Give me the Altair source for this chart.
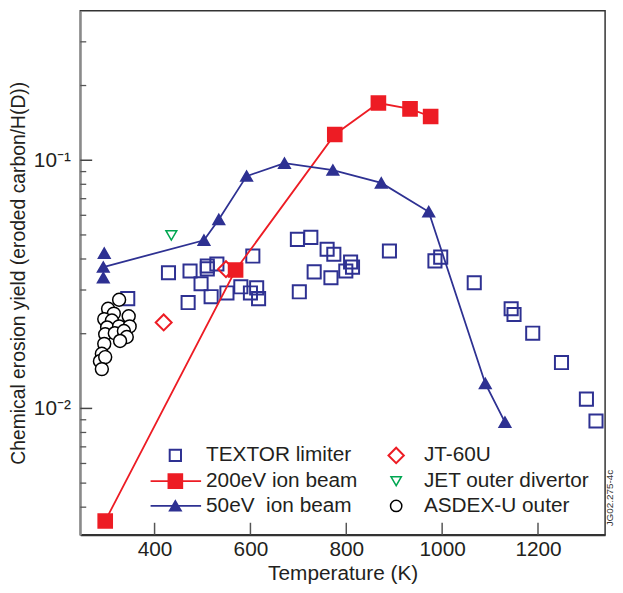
import altair as alt
import pandas as pd

# ---------------- data ----------------
textor_T = [344, 429, 474, 510, 510, 530, 497, 470, 518, 551, 580, 605, 600, 613, 617,
            702, 698, 726, 760, 774, 809, 813, 799, 733, 768, 890, 985, 997,
            1067, 1144, 1150, 1189, 1249, 1301, 1321]
textor_Y = [0.0277, 0.0352, 0.0358, 0.0375, 0.0365, 0.0382, 0.0318, 0.0267, 0.0282, 0.0292,
            0.0309, 0.0411, 0.0292, 0.0306, 0.0277,
            0.0295, 0.048, 0.0489, 0.0438, 0.0418, 0.0389, 0.0371, 0.0358, 0.0355, 0.0336,
            0.0431, 0.0393, 0.0407,
            0.0321, 0.0252, 0.0239, 0.0201, 0.0153, 0.0109, 0.0089]

beam200_T = [297, 569, 776, 867, 933, 976]
beam200_Y = [0.00352, 0.0361, 0.127, 0.170, 0.161, 0.150]

beam50_T = [293, 503, 534, 592, 671, 772, 873, 972, 1090, 1131]
beam50_Y = [0.0371, 0.0476, 0.0577, 0.0863, 0.0973, 0.0912, 0.081, 0.0620, 0.0126, 0.0088]
beam50_extra_T = [295, 293]
beam50_extra_Y = [0.0422, 0.0336]

jt60_T = [549, 419]
jt60_Y = [0.0364, 0.0222]

jet_T = [435]
jet_Y = [0.0498]

asdex_T = [326, 303, 315, 295, 311, 346, 301, 326, 348, 297, 317, 336, 342, 328, 295, 290, 286, 297, 290]
asdex_Y = [0.0274, 0.0252, 0.0241, 0.0229, 0.0226, 0.0235, 0.0212, 0.0214, 0.0214, 0.0199,
           0.0201, 0.0205, 0.0194, 0.0187, 0.0182, 0.0166, 0.0155, 0.0161, 0.0144]

x_major = [400, 600, 800, 1000, 1200]
y_major = [0.01, 0.1]
y_minor = [0.004, 0.005, 0.006, 0.007, 0.008, 0.009,
           0.02, 0.03, 0.04, 0.05, 0.06, 0.07, 0.08, 0.09, 0.2, 0.3]

legend_left = ["TEXTOR limiter", "200eV ion beam", "50eV\u00a0 ion beam"]
legend_right = ["JT-60U", "JET outer divertor", "ASDEX-U outer"]

BLUE = "#2e3192"
RED = "#ed1c24"
GREEN = "#00a651"
FONT = "Liberation Sans"
FS = 21

W, H = 530, 529
xscale = alt.Scale(domain=[245, 1340], zero=False, nice=False)
yscale = alt.Scale(type="log", domain=[0.0031, 0.4], nice=False)

xaxis = alt.Axis(title="Temperature (K)", values=x_major, ticks=False, grid=False,
                 labelPadding=4, titlePadding=3, domainColor="#333", domainWidth=2,
                 format="d")
yaxis = alt.Axis(title="Chemical erosion yield (eroded carbon/H(D))", values=y_major,
                 ticks=False, grid=False, labelPadding=10, titlePadding=5,
                 titleFontSize=19.5,
                 domainColor="#8a8a8a", domainWidth=2,
                 labelExpr="datum.value > 0.05 ? '10\u207b\u00b9' : '10\u207b\u00b2'")


def df(t, y):
    return pd.DataFrame({"T": t, "Y": y})


def enc():
    return dict(
        x=alt.X("T:Q", scale=xscale, axis=xaxis),
        y=alt.Y("Y:Q", scale=yscale, axis=yaxis),
    )


textor = alt.Chart(df(textor_T, textor_Y)).mark_point(
    shape="square", filled=False, stroke=BLUE, strokeWidth=2, size=175, opacity=1
).encode(**enc())

asdex = alt.Chart(df(asdex_T, asdex_Y)).mark_point(
    shape="circle", filled=True, fill="white", stroke="black", strokeWidth=1.5, size=170, opacity=1
).encode(**enc())

jt60 = alt.Chart(df(jt60_T, jt60_Y)).mark_point(
    shape="diamond", filled=False, stroke=RED, strokeWidth=2, size=260, opacity=1
).encode(**enc())

jet = alt.Chart(df(jet_T, jet_Y)).mark_point(
    shape="triangle-down", filled=False, stroke=GREEN, strokeWidth=1.5, size=120, opacity=1
).encode(**enc())

red_line = alt.Chart(df(beam200_T, beam200_Y)).mark_line(color=RED, strokeWidth=1.8).encode(**enc())
red_pts = alt.Chart(df(beam200_T, beam200_Y)).mark_point(
    shape="square", filled=True, fill=RED, stroke=RED, size=190, opacity=1
).encode(**enc())

blue_line = alt.Chart(df(beam50_T, beam50_Y)).mark_line(color=BLUE, strokeWidth=1.8).encode(**enc())
blue_pts = alt.Chart(df(beam50_T + beam50_extra_T, beam50_Y + beam50_extra_Y)).mark_point(
    shape="triangle-up", filled=True, fill=BLUE, stroke=BLUE, size=120, opacity=1
).encode(**enc())

# inward ticks
xt = alt.Chart(pd.DataFrame({"T": x_major})).mark_rule(color="#555", strokeWidth=1.5).encode(
    x=alt.X("T:Q", scale=xscale, axis=xaxis), y=alt.value(H), y2=alt.value(H - 12))
yt_major = alt.Chart(pd.DataFrame({"Y": y_major})).mark_rule(color="#444", strokeWidth=1.5).encode(
    y=alt.Y("Y:Q", scale=yscale, axis=yaxis), x=alt.value(0), x2=alt.value(12))
yt_minor = alt.Chart(pd.DataFrame({"Y": y_minor})).mark_rule(color="#555", strokeWidth=1.3).encode(
    y=alt.Y("Y:Q", scale=yscale, axis=yaxis), x=alt.value(0), x2=alt.value(6))

# legend
leg_layers = []
rows_y = [449, 475, 500]
for i, lab in enumerate(legend_left):
    leg_layers.append(alt.Chart(pd.DataFrame({"label": [lab]})).mark_text(
        align="left", baseline="middle", fontSize=FS, font=FONT, color="#231f20"
    ).encode(x=alt.value(127), y=alt.value(rows_y[i]), text="label:N"))
for i, lab in enumerate(legend_right):
    leg_layers.append(alt.Chart(pd.DataFrame({"label": [lab]})).mark_text(
        align="left", baseline="middle", fontSize=FS, font=FONT, color="#231f20"
    ).encode(x=alt.value(347), y=alt.value(rows_y[i]), text="label:N"))

one = pd.DataFrame({"k": [0]})
leg_layers += [
    alt.Chart(one).mark_point(shape="square", filled=False, stroke=BLUE, strokeWidth=2, size=130, opacity=1)
    .encode(x=alt.value(96), y=alt.value(rows_y[0])),
    alt.Chart(one).mark_rule(color=RED, strokeWidth=1.8)
    .encode(x=alt.value(71), x2=alt.value(122), y=alt.value(rows_y[1])),
    alt.Chart(one).mark_point(shape="square", filled=True, fill=RED, stroke=RED, size=190, opacity=1)
    .encode(x=alt.value(96), y=alt.value(rows_y[1])),
    alt.Chart(one).mark_rule(color=BLUE, strokeWidth=1.8)
    .encode(x=alt.value(71), x2=alt.value(122), y=alt.value(rows_y[2])),
    alt.Chart(one).mark_point(shape="triangle-up", filled=True, fill=BLUE, stroke=BLUE, size=120, opacity=1)
    .encode(x=alt.value(96), y=alt.value(rows_y[2])),
    alt.Chart(one).mark_point(shape="diamond", filled=False, stroke=RED, strokeWidth=2, size=240, opacity=1)
    .encode(x=alt.value(319), y=alt.value(rows_y[0])),
    alt.Chart(one).mark_point(shape="triangle-down", filled=False, stroke=GREEN, strokeWidth=1.5, size=110, opacity=1)
    .encode(x=alt.value(319), y=alt.value(rows_y[1])),
    alt.Chart(one).mark_point(shape="circle", filled=False, stroke="black", strokeWidth=1.5, size=130, opacity=1)
    .encode(x=alt.value(319), y=alt.value(rows_y[2])),
]

tag = alt.Chart(pd.DataFrame({"label": ["JG02.275-4c"]})).mark_text(
    angle=270, align="center", baseline="middle", fontSize=10, font=FONT, color="#333"
).encode(x=alt.value(535), y=alt.value(492), text="label:N")

chart = alt.layer(
    textor, asdex, jt60, jet, red_line, red_pts, blue_line, blue_pts,
    xt, yt_major, yt_minor, *leg_layers, tag
).properties(
    width=W, height=H,
    autosize=alt.AutoSizeParams(type="none"),
    padding={"left": 73, "top": 0, "right": 10, "bottom": 48},
).configure_view(
    stroke="#333", strokeWidth=1.5
).configure_axis(
    labelFont=FONT, titleFont=FONT, labelFontSize=FS, titleFontSize=FS,
    labelColor="#231f20", titleColor="#231f20", titleFontWeight="normal"
)

chart.save("out.html", embed_options={"renderer": "svg", "actions": False})
